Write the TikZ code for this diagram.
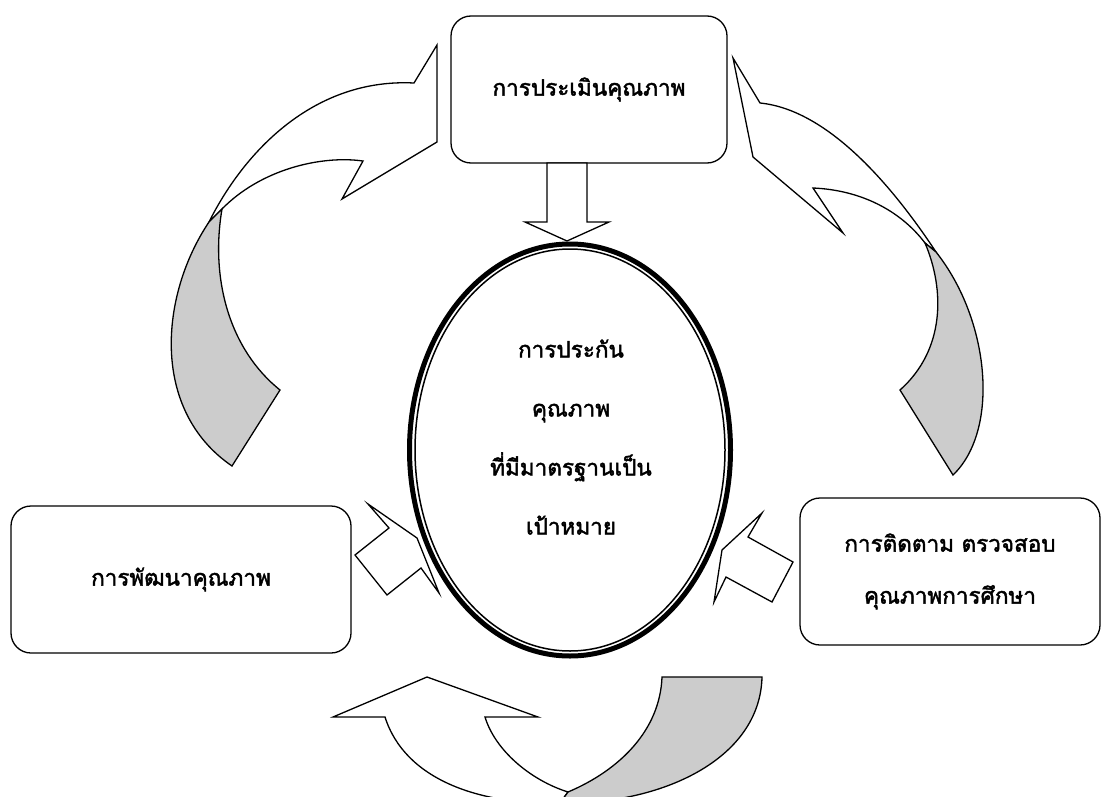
\documentclass[tikz,border=0pt]{standalone}
\usepackage{fontspec}
\newfontfamily\thaifont[Script=Thai,FakeBold=2]{Loma}
\usetikzlibrary{shapes.geometric}

\begin{document}
\begin{tikzpicture}[x=1pt,y=-1pt,
		box/.style={draw,rounded corners=20pt,line width=1.3pt,minimum height=147pt,align=center,
			font=\thaifont\fontsize{22.5}{52}\selectfont},
		blockarrow/.style={draw,fill=white,line width=1.3pt},
		backside/.style={draw,fill=black!20,line width=1.3pt}]
			\clip (0,0) rectangle (1102,797);
			\node[box,minimum width=276pt] (assess) at (589,89.5) {การประเมินคุณภาพ};
			\node[box,minimum width=340pt] (develop) at (181,579.5) {การพัฒนาคุณภาพ};
			\node[box,minimum width=300pt] (monitor) at (950,571.5) {การติดตาม ตรวจสอบ\\คุณภาพการศึกษา};
			\node[ellipse,draw,line width=5pt,minimum width=321pt,minimum height=412pt,inner sep=0pt] (core) at (570,450) {};
			\draw[line width=1.5pt] (core.center) ellipse [x radius=155pt,y radius=201pt];
			\node[align=center,font=\thaifont\fontsize{22.5}{59}\selectfont] (goal) at (571,437)
				{การประกัน\\คุณภาพ\\ที่มีมาตรฐานเป็น\\เป้าหมาย};

			% assess -> core
			\draw[blockarrow] (547,163) -- (547,222) -- (525,222) -- (567,241) -- (609,222) -- (587,222) -- (587,163) -- cycle;
			% small arrows into the core
			\draw[blockarrow] (355,555) -- (389,528) -- (368,504) -- (417,538) -- (439,593) -- (421,568) -- (387,595) -- cycle;
			\draw[blockarrow] (762,513) -- (748,537) -- (793,562) -- (772,602) -- (726,577) -- (714,602) -- (722,550) -- cycle;

			% develop -> assess
			\draw[blockarrow] (209,222) .. controls (245,150) and (315,78) .. (414,83) -- (437,45) -- (437,142)
				-- (342,199) -- (363,161) .. controls (320,155) and (260,170) .. (222,209) -- cycle;
			\draw[backside] (222,209) .. controls (210,280) and (230,350) .. (280,390) -- (232,466)
				.. controls (150,410) and (160,295) .. (209,222) -- cycle;
			% assess -> monitor
			\draw[blockarrow] (936,252) .. controls (895,190) and (830,110) .. (760,103) -- (733,58) -- (753,157)
				-- (843,233) -- (813,188) .. controls (860,190) and (900,210) .. (925,243) -- cycle;
			\draw[backside] (925,243) .. controls (945,290) and (945,350) .. (900,390) -- (953,475)
				.. controls (1000,430) and (990,320) .. (936,252) -- cycle;
			% monitor -> develop
			\draw[blockarrow] (568,792) .. controls (530,780) and (495,750) .. (485,717) -- (538,717) -- (427,677)
				-- (333,717) -- (385,717) .. controls (405,780) and (480,805) .. (560,803) -- cycle;
			\draw[backside] (568,792) .. controls (620,770) and (660,730) .. (662,677) -- (762,677)
				.. controls (760,760) and (660,805) .. (560,803) -- cycle;
		\end{tikzpicture}
\end{document}
